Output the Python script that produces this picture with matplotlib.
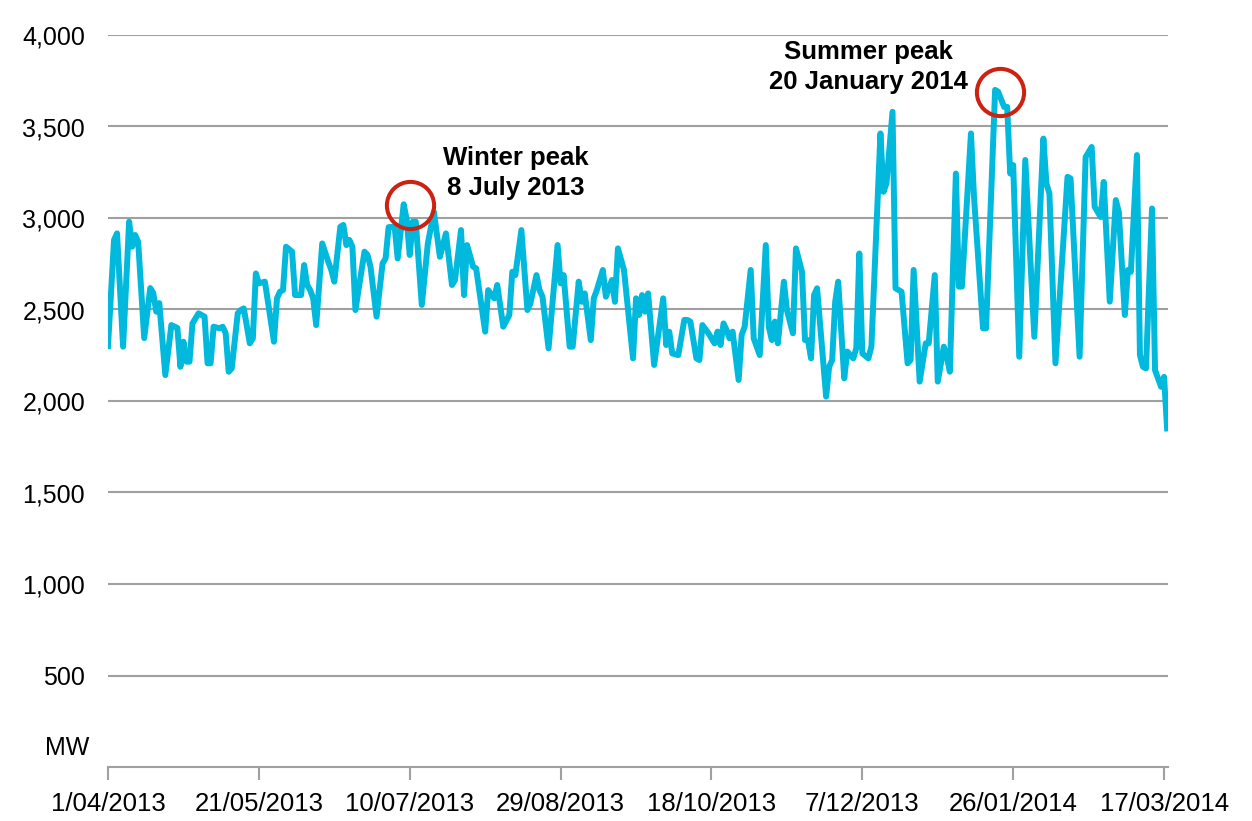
import matplotlib
matplotlib.use("Agg")
import matplotlib.pyplot as plt
import matplotlib.dates as mdates
from matplotlib.ticker import FuncFormatter
import pandas as pd

plt.rcParams['font.family'] = ['Liberation Sans', 'DejaVu Sans']

# ---- data: days since 1 April 2013 and daily peak demand (MW) ----
start_date = "2013-04-01"
day_offset = [0, 2, 3, 5, 7, 8, 9, 10, 12, 14, 15, 16, 17, 19, 21, 23, 24, 25, 26, 27,
              28, 30, 32, 33, 34, 35, 37, 38, 39, 40, 41, 43, 44, 45, 47, 48, 49, 50, 52, 55,
              56, 57, 58, 59, 61, 62, 64, 65, 66, 67, 68, 69, 71, 73, 74, 75, 77, 78, 79, 80,
              81, 82, 85, 86, 87, 89, 91, 92, 93, 95, 96, 97, 98, 99, 100, 101, 102, 104, 106, 108,
              110, 112, 114, 115, 117, 118, 119, 121, 122, 125, 126, 128, 129, 131, 133, 134, 135, 137, 139, 140,
              142, 143, 144, 146, 149, 150, 151, 153, 154, 156, 157, 158, 160, 161, 162, 164, 165, 167, 168, 169,
              171, 174, 175, 176, 177, 178, 179, 181, 184, 185, 186, 187, 189, 191, 192, 193, 195, 196, 197, 199,
              200, 201, 202, 203, 204, 205, 206, 207, 209, 210, 211, 213, 214, 216, 218, 219, 220, 221, 222, 224,
              225, 227, 228, 230, 231, 232, 233, 234, 235, 238, 239, 240, 241, 242, 244, 245, 247, 248, 249, 250,
              252, 253, 256, 257, 258, 260, 261, 263, 265, 266, 267, 269, 271, 272, 274, 275, 277, 278, 279, 281,
              282, 283, 286, 287, 290, 291, 294, 295, 297, 298, 299, 300, 302, 304, 307, 310, 311, 312, 314, 318,
              319, 322, 324, 326, 327, 329, 330, 332, 334, 335, 337, 338, 339, 341, 342, 343, 344, 346, 347, 349,
              350, 351]
demand_mw = [2300, 2880, 2916, 2297, 2980, 2843, 2907, 2870, 2344, 2617, 2590, 2488, 2535, 2142, 2415, 2399, 2187, 2324, 2215, 2215,
             2424, 2479, 2461, 2206, 2206, 2406, 2397, 2406, 2370, 2160, 2178, 2479, 2497, 2506, 2315, 2342, 2697, 2643, 2652, 2324,
             2561, 2597, 2606, 2843, 2816, 2579, 2579, 2743, 2634, 2606, 2561, 2415, 2861, 2761, 2716, 2652, 2952, 2962, 2852, 2880,
             2843, 2497, 2816, 2798, 2734, 2461, 2752, 2779, 2950, 2952, 2779, 2925, 3075, 2989, 2798, 2980, 2980, 2525, 2861, 3034,
             2788, 2916, 2634, 2661, 2934, 2579, 2852, 2734, 2725, 2379, 2606, 2561, 2634, 2406, 2470, 2706, 2688, 2934, 2497, 2534,
             2688, 2606, 2570, 2288, 2852, 2643, 2688, 2297, 2297, 2652, 2542, 2588, 2333, 2561, 2606, 2716, 2570, 2661, 2542, 2834,
             2716, 2233, 2561, 2470, 2579, 2488, 2588, 2197, 2561, 2306, 2379, 2260, 2251, 2443, 2443, 2434, 2233, 2224, 2415, 2370,
             2342, 2315, 2379, 2306, 2424, 2388, 2342, 2379, 2115, 2361, 2406, 2716, 2342, 2251, 2852, 2406, 2333, 2434, 2315, 2652,
             2497, 2370, 2834, 2706, 2333, 2333, 2233, 2579, 2616, 2024, 2187, 2224, 2542, 2652, 2124, 2270, 2233, 2288, 2806, 2260,
             2233, 2297, 3462, 3143, 3189, 3580, 2616, 2597, 2206, 2224, 2716, 2106, 2315, 2315, 2688, 2106, 2297, 2242, 2160, 3243,
             2625, 2625, 3462, 3117, 2397, 2397, 3700, 3690, 3607, 3607, 3243, 3289, 2242, 3317, 2351, 3434, 3189, 3134, 2206, 3225,
             3216, 2242, 3333, 3388, 3061, 3005, 3197, 2543, 3098, 3034, 2470, 2716, 2706, 3344, 2251, 2187, 2178, 3052, 2169, 2078,
             2132, 1850]

tick_every_days = 50
y_ticks = [500, 1000, 1500, 2000, 2500, 3000, 3500, 4000]

annotations = [
    {"text": "Winter peak\n8 July 2013", "circle_day": 100, "circle_mw": 3071,
     "text_day": 135, "text_mw": 3245},
    {"text": "Summer peak\n20 January 2014", "circle_day": 295.7, "circle_mw": 3689,
     "text_day": 252, "text_mw": 3823},
]

# ---- figure ----
start = pd.Timestamp(start_date)
dates = [start + pd.Timedelta(days=d) for d in day_offset]

fig = plt.figure(figsize=(12.52, 8.21), dpi=100)
ax = fig.add_axes([108 / 1252, 1 - 767 / 821, (1168 - 108) / 1252, (767 - 35) / 821])

grid_color = "#a0a0a0"
for v in y_ticks:
    ax.axhline(v, color=grid_color, lw=1.5, zorder=1)

ax.plot(dates, demand_mw, color="#00b9dc", lw=4.3, solid_joinstyle="round", zorder=3)

x0 = mdates.date2num(start)
ax.set_xlim(x0, x0 + 351.3)
ax.set_ylim(0, 4000)

for side in ["top", "right", "left"]:
    ax.spines[side].set_visible(False)
ax.spines["bottom"].set_color(grid_color)
ax.spines["bottom"].set_linewidth(1.5)

ax.set_xticks([x0 + d for d in range(0, 352, tick_every_days)])
ax.xaxis.set_major_formatter(FuncFormatter(
    lambda v, p: (lambda d: f"{d.day}/{d.month:02d}/{d.year}")(mdates.num2date(v))))
ax.tick_params(axis="x", direction="out", length=9, width=1.5, color=grid_color,
               labelsize=18.5, pad=9, labelcolor="black")
ax.set_yticks(y_ticks)
ax.yaxis.set_major_formatter(FuncFormatter(lambda v, p: f"{int(v):,}"))
ax.tick_params(axis="y", length=0, labelsize=18, pad=16.5, labelcolor="black")

fig.text(45 / 1252, 1 - 748 / 821, "MW", fontsize=18, va="center", ha="left")

for a in annotations:
    ax.plot([x0 + a["circle_day"]], [a["circle_mw"]], marker="o", ms=34, mfc="none",
            mec="#cc2211", mew=2.9, zorder=4)
    ax.text(x0 + a["text_day"], a["text_mw"], a["text"], fontsize=18.5, fontweight="bold",
            ha="center", va="center", linespacing=1.32, zorder=5)

fig.savefig("out.png", dpi=100)
